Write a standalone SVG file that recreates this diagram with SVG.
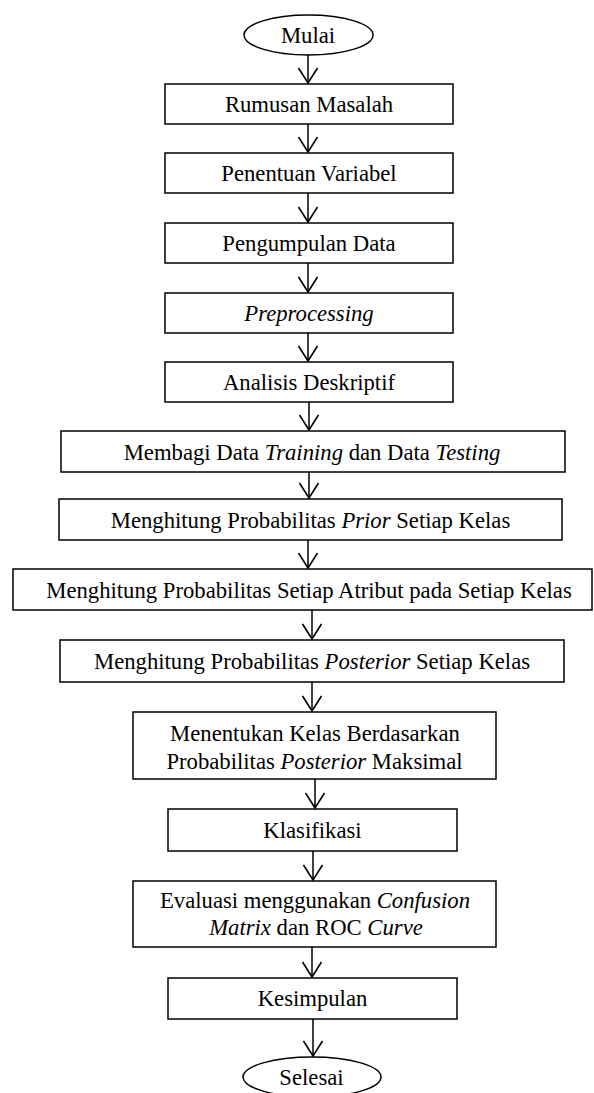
<svg xmlns="http://www.w3.org/2000/svg" width="594" height="1093" viewBox="0 0 594 1093">
<style>
rect, ellipse { fill: #fff; stroke: #000; stroke-width: 1.5; }
text { font-family: "Liberation Serif", "Times New Roman", serif; font-size: 22.7px; fill: #000; text-anchor: middle; }
.i { font-style: italic; }
.c line { stroke: #000; stroke-width: 1.5; marker-end: url(#ah); }
</style>
<defs>
<marker id="ah" markerUnits="userSpaceOnUse" orient="auto" refX="0" refY="0" markerWidth="20" markerHeight="20" overflow="visible">
<path d="M-15,-9.5 L0,0 L-15,9.5" fill="none" stroke="#000" stroke-width="1.6"/>
</marker>
</defs>
<rect x="0" y="0" width="594" height="1093" style="fill:#fff;stroke:none"/>
<g class="c" id="connectors">
<line x1="308" y1="55" x2="308" y2="83"/>
<line x1="308" y1="124" x2="308" y2="152"/>
<line x1="308" y1="193" x2="308" y2="222"/>
<line x1="308" y1="263" x2="308" y2="292"/>
<line x1="308" y1="333" x2="308" y2="361"/>
<line x1="309" y1="402" x2="309" y2="430"/>
<line x1="309" y1="472" x2="309" y2="498"/>
<line x1="308" y1="540" x2="308" y2="568"/>
<line x1="312" y1="610" x2="312" y2="639"/>
<line x1="312" y1="682" x2="312" y2="711"/>
<line x1="315" y1="779" x2="315" y2="808"/>
<line x1="313" y1="851" x2="313" y2="880"/>
<line x1="312" y1="947" x2="312" y2="977"/>
<line x1="313" y1="1019" x2="313" y2="1056"/>
</g>
<g id="mulai"><ellipse cx="308.5" cy="35" rx="64.5" ry="20"/><text x="308" y="43">Mulai</text></g>
<g id="rumusan"><rect x="165" y="84" width="288" height="40"/><text x="309" y="111.5">Rumusan Masalah</text></g>
<g id="penentuan"><rect x="165" y="153" width="288" height="40"/><text x="309" y="180.5">Penentuan Variabel</text></g>
<g id="pengumpulan"><rect x="165" y="223" width="288" height="40"/><text x="309" y="250.5">Pengumpulan Data</text></g>
<g id="preprocessing"><rect x="165" y="293" width="288" height="40"/><text x="309" y="320.5" class="i">Preprocessing</text></g>
<g id="analisis"><rect x="165" y="362" width="288" height="40"/><text x="309" y="389.5">Analisis Deskriptif</text></g>
<g id="membagi"><rect x="61" y="431" width="504" height="41"/><text x="312" y="459.5">Membagi Data <tspan class="i">Training</tspan> dan Data <tspan class="i">Testing</tspan></text></g>
<g id="prior"><rect x="59" y="499" width="503" height="41"/><text x="310.5" y="527.5">Menghitung Probabilitas <tspan class="i">Prior</tspan> Setiap Kelas</text></g>
<g id="atribut"><rect x="13" y="569" width="579" height="41"/><text x="309" y="597.5">Menghitung Probabilitas Setiap Atribut pada Setiap Kelas</text></g>
<g id="posterior"><rect x="60" y="640" width="504" height="42"/><text x="312" y="668.5">Menghitung Probabilitas <tspan class="i">Posterior</tspan> Setiap Kelas</text></g>
<g id="menentukan"><rect x="133" y="712" width="363" height="67"/><text x="315" y="741">Menentukan Kelas Berdasarkan</text><text x="314.5" y="769">Probabilitas <tspan class="i">Posterior</tspan> Maksimal</text></g>
<g id="klasifikasi"><rect x="168" y="809" width="289" height="42"/><text x="312.5" y="837.5">Klasifikasi</text></g>
<g id="evaluasi"><rect x="133" y="881" width="363" height="66"/><text x="315" y="908">Evaluasi menggunakan <tspan class="i">Confusion</tspan></text><text x="316" y="935"><tspan class="i">Matrix</tspan> dan ROC <tspan class="i">Curve</tspan></text></g>
<g id="kesimpulan"><rect x="168" y="978" width="289" height="41"/><text x="312.5" y="1006">Kesimpulan</text></g>
<g id="selesai"><ellipse cx="312" cy="1077" rx="69" ry="20"/><text x="311.5" y="1085">Selesai</text></g>
</svg>
